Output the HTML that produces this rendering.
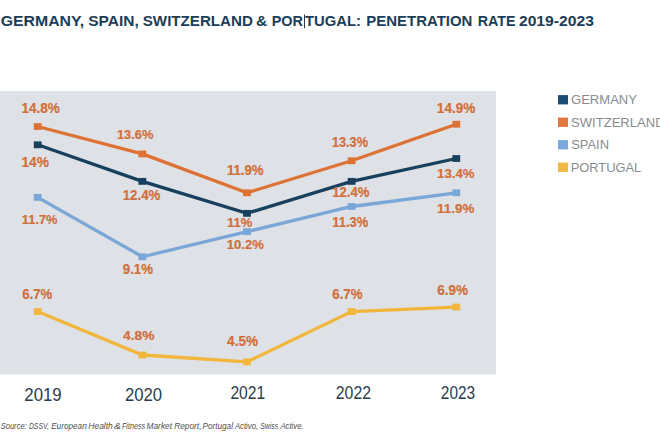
<!DOCTYPE html>
<html><head><meta charset="utf-8"><style>
html,body{margin:0;padding:0;background:#fff;width:660px;height:440px;overflow:hidden}
svg{display:block}
text{font-family:"Liberation Sans",sans-serif}
</style></head><body>
<svg width="660" height="440" viewBox="0 0 660 440">
<rect x="0" y="91" width="496" height="283.5" fill="#DEE2E6"/>
<polyline points="37.70,311.60 142.35,355.02 247.00,361.88 351.65,311.60 456.30,307.03" fill="none" stroke="#F1B63B" stroke-width="3.3" stroke-linejoin="miter"/>
<rect x="33.80" y="308.20" width="7.8" height="6.8" fill="#F1B63B"/>
<rect x="138.45" y="351.62" width="7.8" height="6.8" fill="#F1B63B"/>
<rect x="243.10" y="358.48" width="7.8" height="6.8" fill="#F1B63B"/>
<rect x="347.75" y="308.20" width="7.8" height="6.8" fill="#F1B63B"/>
<rect x="452.40" y="303.63" width="7.8" height="6.8" fill="#F1B63B"/>
<polyline points="37.70,197.35 142.35,256.76 247.00,231.63 351.65,206.49 456.30,192.78" fill="none" stroke="#7BA7D8" stroke-width="3.3" stroke-linejoin="miter"/>
<rect x="33.80" y="193.95" width="7.8" height="6.8" fill="#7BA7D8"/>
<rect x="138.45" y="253.36" width="7.8" height="6.8" fill="#7BA7D8"/>
<rect x="243.10" y="228.23" width="7.8" height="6.8" fill="#7BA7D8"/>
<rect x="347.75" y="203.09" width="7.8" height="6.8" fill="#7BA7D8"/>
<rect x="452.40" y="189.38" width="7.8" height="6.8" fill="#7BA7D8"/>
<polyline points="37.70,144.80 142.35,181.36 247.00,213.35 351.65,181.36 456.30,158.51" fill="none" stroke="#173F5E" stroke-width="3.3" stroke-linejoin="miter"/>
<rect x="33.80" y="141.40" width="7.8" height="6.8" fill="#173F5E"/>
<rect x="138.45" y="177.96" width="7.8" height="6.8" fill="#173F5E"/>
<rect x="243.10" y="209.95" width="7.8" height="6.8" fill="#173F5E"/>
<rect x="347.75" y="177.96" width="7.8" height="6.8" fill="#173F5E"/>
<rect x="452.40" y="155.11" width="7.8" height="6.8" fill="#173F5E"/>
<polyline points="37.70,126.52 142.35,153.94 247.00,192.78 351.65,160.79 456.30,124.23" fill="none" stroke="#DE7235" stroke-width="3.3" stroke-linejoin="miter"/>
<rect x="33.80" y="123.12" width="7.8" height="6.8" fill="#DE7235"/>
<rect x="138.45" y="150.54" width="7.8" height="6.8" fill="#DE7235"/>
<rect x="243.10" y="189.38" width="7.8" height="6.8" fill="#DE7235"/>
<rect x="347.75" y="157.39" width="7.8" height="6.8" fill="#DE7235"/>
<rect x="452.40" y="120.83" width="7.8" height="6.8" fill="#DE7235"/>
<text x="21.45" y="113.20" font-size="13.95" font-weight="bold" font-style="normal" fill="#D26E39" textLength="38.41" lengthAdjust="spacingAndGlyphs" stroke="#D26E39" stroke-width="0.2">14.8%</text>
<text x="21.43" y="167.30" font-size="14.10" font-weight="bold" font-style="normal" fill="#D26E39" textLength="27.53" lengthAdjust="spacingAndGlyphs" stroke="#D26E39" stroke-width="0.2">14%</text>
<text x="21.81" y="223.60" font-size="13.23" font-weight="bold" font-style="normal" fill="#D26E39" textLength="35.73" lengthAdjust="spacingAndGlyphs" stroke="#D26E39" stroke-width="0.2">11.7%</text>
<text x="22.22" y="298.60" font-size="13.81" font-weight="bold" font-style="normal" fill="#D26E39" textLength="29.93" lengthAdjust="spacingAndGlyphs" stroke="#D26E39" stroke-width="0.2">6.7%</text>
<text x="116.89" y="139.10" font-size="13.23" font-weight="bold" font-style="normal" fill="#D26E39" textLength="36.66" lengthAdjust="spacingAndGlyphs" stroke="#D26E39" stroke-width="0.2">13.6%</text>
<text x="122.66" y="199.70" font-size="13.81" font-weight="bold" font-style="normal" fill="#D26E39" textLength="37.69" lengthAdjust="spacingAndGlyphs" stroke="#D26E39" stroke-width="0.2">12.4%</text>
<text x="122.74" y="274.40" font-size="13.95" font-weight="bold" font-style="normal" fill="#D26E39" textLength="30.31" lengthAdjust="spacingAndGlyphs" stroke="#D26E39" stroke-width="0.2">9.1%</text>
<text x="122.99" y="339.70" font-size="13.23" font-weight="bold" font-style="normal" fill="#D26E39" textLength="31.47" lengthAdjust="spacingAndGlyphs" stroke="#D26E39" stroke-width="0.2">4.8%</text>
<text x="226.89" y="174.50" font-size="13.81" font-weight="bold" font-style="normal" fill="#D26E39" textLength="36.66" lengthAdjust="spacingAndGlyphs" stroke="#D26E39" stroke-width="0.2">11.9%</text>
<text x="227.10" y="226.90" font-size="13.52" font-weight="bold" font-style="normal" fill="#D26E39" textLength="25.33" lengthAdjust="spacingAndGlyphs" stroke="#D26E39" stroke-width="0.2">11%</text>
<text x="226.67" y="248.70" font-size="13.52" font-weight="bold" font-style="normal" fill="#D26E39" textLength="37.17" lengthAdjust="spacingAndGlyphs" stroke="#D26E39" stroke-width="0.2">10.2%</text>
<text x="227.09" y="345.70" font-size="13.81" font-weight="bold" font-style="normal" fill="#D26E39" textLength="30.96" lengthAdjust="spacingAndGlyphs" stroke="#D26E39" stroke-width="0.2">4.5%</text>
<text x="331.90" y="146.50" font-size="13.95" font-weight="bold" font-style="normal" fill="#D26E39" textLength="36.14" lengthAdjust="spacingAndGlyphs" stroke="#D26E39" stroke-width="0.2">13.3%</text>
<text x="332.27" y="196.90" font-size="13.95" font-weight="bold" font-style="normal" fill="#D26E39" textLength="37.17" lengthAdjust="spacingAndGlyphs" stroke="#D26E39" stroke-width="0.2">12.4%</text>
<text x="332.30" y="227.10" font-size="14.24" font-weight="bold" font-style="normal" fill="#D26E39" textLength="36.04" lengthAdjust="spacingAndGlyphs" stroke="#D26E39" stroke-width="0.2">11.3%</text>
<text x="332.21" y="298.60" font-size="14.54" font-weight="bold" font-style="normal" fill="#D26E39" textLength="30.44" lengthAdjust="spacingAndGlyphs" stroke="#D26E39" stroke-width="0.2">6.7%</text>
<text x="436.84" y="113.10" font-size="14.10" font-weight="bold" font-style="normal" fill="#D26E39" textLength="38.51" lengthAdjust="spacingAndGlyphs" stroke="#D26E39" stroke-width="0.2">14.9%</text>
<text x="437.07" y="178.00" font-size="13.52" font-weight="bold" font-style="normal" fill="#D26E39" textLength="37.38" lengthAdjust="spacingAndGlyphs" stroke="#D26E39" stroke-width="0.2">13.4%</text>
<text x="437.07" y="212.60" font-size="13.37" font-weight="bold" font-style="normal" fill="#D26E39" textLength="37.27" lengthAdjust="spacingAndGlyphs" stroke="#D26E39" stroke-width="0.2">11.9%</text>
<text x="437.20" y="294.60" font-size="14.54" font-weight="bold" font-style="normal" fill="#D26E39" textLength="30.85" lengthAdjust="spacingAndGlyphs" stroke="#D26E39" stroke-width="0.2">6.9%</text>
<text x="0.76" y="26.20" font-size="15.55" font-weight="bold" font-style="normal" fill="#1B3D58" textLength="83.47" lengthAdjust="spacingAndGlyphs">GERMANY,</text>
<text x="88.16" y="26.20" font-size="15.55" font-weight="bold" font-style="normal" fill="#1B3D58" textLength="50.55" lengthAdjust="spacingAndGlyphs">SPAIN,</text>
<text x="142.76" y="26.20" font-size="15.55" font-weight="bold" font-style="normal" fill="#1B3D58" textLength="110.17" lengthAdjust="spacingAndGlyphs">SWITZERLAND</text>
<text x="256.12" y="26.20" font-size="15.55" font-weight="bold" font-style="normal" fill="#1B3D58" textLength="11.16" lengthAdjust="spacingAndGlyphs">&amp;</text>
<text x="271.73" y="26.20" font-size="15.55" font-weight="bold" font-style="normal" fill="#1B3D58" textLength="31.26" lengthAdjust="spacingAndGlyphs">POR</text>
<text x="305.03" y="26.20" font-size="15.55" font-weight="bold" font-style="normal" fill="#1B3D58" textLength="55.89" lengthAdjust="spacingAndGlyphs">TUGAL:</text>
<text x="366.31" y="26.20" font-size="15.55" font-weight="bold" font-style="normal" fill="#1B3D58" textLength="106.09" lengthAdjust="spacingAndGlyphs">PENETRATION</text>
<text x="477.67" y="26.20" font-size="15.55" font-weight="bold" font-style="normal" fill="#1B3D58" textLength="37.87" lengthAdjust="spacingAndGlyphs">RATE</text>
<text x="518.96" y="26.20" font-size="15.55" font-weight="bold" font-style="normal" fill="#1B3D58" textLength="74.91" lengthAdjust="spacingAndGlyphs">2019-2023</text>
<rect x="304" y="14.5" width="1" height="13.7" fill="#2A3A4A"/>
<rect x="558" y="95.10" width="10" height="9.3" fill="#1C4C73"/>
<text x="571.04" y="104.20" font-size="12.94" font-weight="normal" font-style="normal" fill="#878C90" textLength="65.94" lengthAdjust="spacingAndGlyphs">GERMANY</text>
<rect x="558" y="117.60" width="10" height="9.3" fill="#E3763A"/>
<text x="571.11" y="126.70" font-size="12.94" font-weight="normal" font-style="normal" fill="#878C90" textLength="93.47" lengthAdjust="spacingAndGlyphs">SWITZERLAND</text>
<rect x="558" y="140.10" width="10" height="9.3" fill="#79A8DC"/>
<text x="571.13" y="149.20" font-size="12.94" font-weight="normal" font-style="normal" fill="#878C90" textLength="37.90" lengthAdjust="spacingAndGlyphs">SPAIN</text>
<rect x="558" y="162.60" width="10" height="9.3" fill="#F0BA42"/>
<text x="570.65" y="171.70" font-size="12.94" font-weight="normal" font-style="normal" fill="#878C90" textLength="70.58" lengthAdjust="spacingAndGlyphs">PORTUGAL</text>
<text x="24.36" y="400.70" font-size="18.90" font-weight="normal" font-style="normal" fill="#2A3C4C" textLength="37.34" lengthAdjust="spacingAndGlyphs">2019</text>
<text x="124.96" y="400.70" font-size="18.90" font-weight="normal" font-style="normal" fill="#2A3C4C" textLength="37.19" lengthAdjust="spacingAndGlyphs">2020</text>
<text x="230.41" y="399.10" font-size="17.88" font-weight="normal" font-style="normal" fill="#2A3C4C" textLength="34.75" lengthAdjust="spacingAndGlyphs">2021</text>
<text x="335.80" y="399.10" font-size="17.88" font-weight="normal" font-style="normal" fill="#2A3C4C" textLength="35.19" lengthAdjust="spacingAndGlyphs">2022</text>
<text x="440.82" y="399.10" font-size="17.88" font-weight="normal" font-style="normal" fill="#2A3C4C" textLength="34.36" lengthAdjust="spacingAndGlyphs">2023</text>
<text x="0.69" y="429.10" font-size="8.87" font-weight="normal" font-style="italic" fill="#505050" textLength="26.02" lengthAdjust="spacingAndGlyphs">Source:</text>
<text x="28.89" y="429.10" font-size="8.87" font-weight="normal" font-style="italic" fill="#505050" textLength="20.08" lengthAdjust="spacingAndGlyphs">DSSV,</text>
<text x="51.15" y="429.10" font-size="8.87" font-weight="normal" font-style="italic" fill="#505050" textLength="35.63" lengthAdjust="spacingAndGlyphs">European</text>
<text x="88.34" y="429.10" font-size="8.87" font-weight="normal" font-style="italic" fill="#505050" textLength="24.45" lengthAdjust="spacingAndGlyphs">Health</text>
<text x="114.04" y="429.10" font-size="8.87" font-weight="normal" font-style="italic" fill="#505050" textLength="6.81" lengthAdjust="spacingAndGlyphs">&amp;</text>
<text x="121.88" y="429.10" font-size="8.87" font-weight="normal" font-style="italic" fill="#505050" textLength="23.27" lengthAdjust="spacingAndGlyphs">Fitness</text>
<text x="146.54" y="429.10" font-size="8.87" font-weight="normal" font-style="italic" fill="#505050" textLength="25.47" lengthAdjust="spacingAndGlyphs">Market</text>
<text x="174.24" y="429.10" font-size="8.87" font-weight="normal" font-style="italic" fill="#505050" textLength="27.22" lengthAdjust="spacingAndGlyphs">Report,</text>
<text x="202.45" y="429.10" font-size="8.87" font-weight="normal" font-style="italic" fill="#505050" textLength="30.57" lengthAdjust="spacingAndGlyphs">Portugal</text>
<text x="234.88" y="429.10" font-size="8.87" font-weight="normal" font-style="italic" fill="#505050" textLength="23.32" lengthAdjust="spacingAndGlyphs">Activo,</text>
<text x="260.31" y="429.10" font-size="8.87" font-weight="normal" font-style="italic" fill="#505050" textLength="17.83" lengthAdjust="spacingAndGlyphs">Swiss</text>
<text x="280.38" y="429.10" font-size="8.87" font-weight="normal" font-style="italic" fill="#505050" textLength="23.27" lengthAdjust="spacingAndGlyphs">Active.</text>
</svg>
</body></html>
